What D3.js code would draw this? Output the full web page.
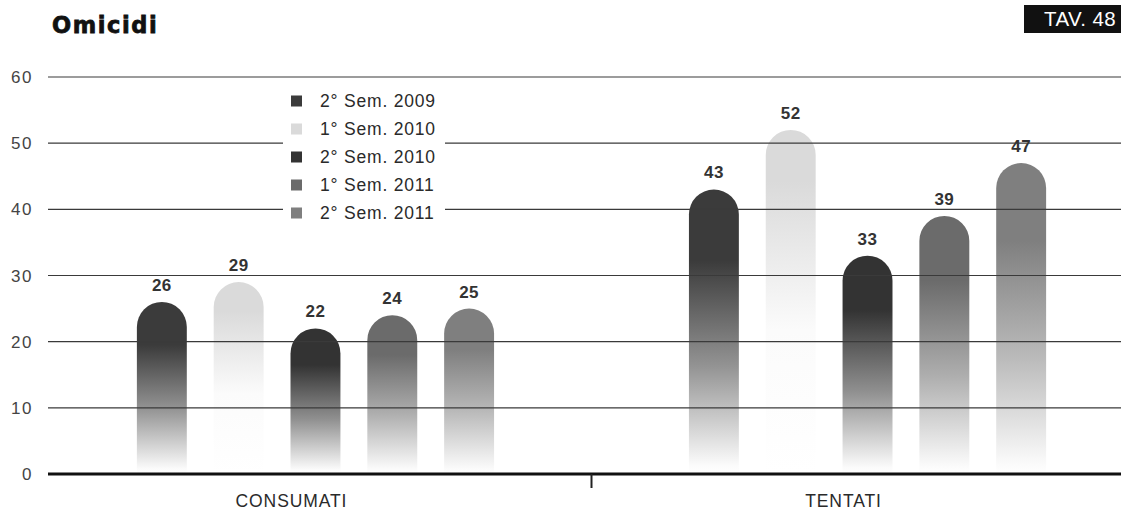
<!DOCTYPE html>
<html><head><meta charset="utf-8">
<script src="https://cdn.jsdelivr.net/npm/d3@7/dist/d3.min.js"></script>
<style>body{margin:0;background:#fff}svg{display:block}</style>
</head><body><svg id="c" width="1121" height="510"></svg>
<script>
const categories = ["CONSUMATI", "TENTATI"];
const series = ["2° Sem. 2009", "1° Sem. 2010", "2° Sem. 2010", "1° Sem. 2011", "2° Sem. 2011"];
const consumati = [26, 29, 22, 24, 25];
const tentati = [43, 52, 33, 39, 47];
const seriesColors = ["#3b3b3b", "#dadada", "#333333", "#6b6b6b", "#7f7f7f"];
const seriesFadeEnd = [1, 0.6, 1, 1, 1];
const yTicks = [0, 10, 20, 30, 40, 50, 60];
const values = [consumati, tentati];

const FONT = "'Liberation Sans', Arial, sans-serif";
const svg = d3.select("#c").style("font-family", FONT);
const W = 1121;
const y = d3.scaleLinear().domain([0, 60]).range([474, 77]);
const x0 = d3.scaleBand().domain(categories).range([48, 1135]).paddingInner(0.353).paddingOuter(0.161);
const x1 = d3.scaleBand().domain(series).range([0, x0.bandwidth()]).paddingInner(0.35).paddingOuter(0);

const defs = svg.append("defs");
series.forEach((s, i) => {
  const e = seriesFadeEnd[i];
  const g = defs.append("linearGradient").attr("id", "g" + i).attr("x1", 0).attr("y1", 0).attr("x2", 0).attr("y2", 1);
  g.append("stop").attr("offset", 0).attr("stop-color", seriesColors[i]);
  g.append("stop").attr("offset", 0.25 * e).attr("stop-color", seriesColors[i]);
  g.append("stop").attr("offset", 0.62 * e).attr("stop-color", d3.interpolateRgb(seriesColors[i], "#fff")(0.45));
  g.append("stop").attr("offset", 0.97 * e).attr("stop-color", "#fbfbfb");
  g.append("stop").attr("offset", 1).attr("stop-color", "#fff");
});

// bars
const bw = x1.bandwidth();
const r = bw / 2;
categories.forEach((c, ci) => {
  const grp = svg.append("g").attr("transform", `translate(${x0(c)},0)`);
  series.forEach((s, si) => {
    const v = values[ci][si];
    const xl = x1(s), top = y(v), bot = y(0);
    const path = `M${xl},${bot} L${xl},${top + r} A${r},${r} 0 0 1 ${xl + bw},${top + r} L${xl + bw},${bot} Z`;
    grp.append("path").attr("d", path).attr("fill", `url(#g${si})`);
    grp.append("text").attr("x", xl + bw / 2).attr("y", top - 11)
      .attr("text-anchor", "middle").attr("font-size", 17).attr("font-weight", "bold")
      .attr("fill", "#333").attr("letter-spacing", "0.5").text(v);
  });
});

// gridlines
svg.append("g").selectAll("line").data(yTicks.filter(t => t > 0)).join("line")
  .attr("x1", 48).attr("x2", W).attr("y1", d => y(d)).attr("y2", d => y(d))
  .attr("stroke", "#3a3a3a").attr("stroke-width", 1.2);

// baseline
svg.append("line").attr("x1", 48).attr("x2", W).attr("y1", y(0)).attr("y2", y(0))
  .attr("stroke", "#111").attr("stroke-width", 3.2);
// separator tick
const tickX = (x0("CONSUMATI") + x0.bandwidth() + x0("TENTATI")) / 2;
svg.append("line").attr("x1", tickX).attr("x2", tickX).attr("y1", y(0)).attr("y2", y(0) + 14)
  .attr("stroke", "#222").attr("stroke-width", 2);

// y labels
svg.append("g").selectAll("text").data(yTicks).join("text")
  .attr("x", 33).attr("y", d => y(d)).attr("dy", "0.36em").attr("text-anchor", "end")
  .attr("font-size", 17).attr("letter-spacing", "1.5").attr("fill", "#444").text(d => d);

// category labels
svg.append("g").selectAll("text").data(categories).join("text")
  .attr("x", d => x0(d) + x0.bandwidth() / 2 - 24).attr("y", 501).attr("dy", "0.36em")
  .attr("text-anchor", "middle").attr("font-size", 17.5).attr("letter-spacing", "0.9")
  .attr("fill", "#2a2a2a").text(d => d);

// legend
const lg = svg.append("g");
lg.append("rect").attr("x", 283).attr("y", 86).attr("width", 162).attr("height", 142).attr("fill", "#fff");
series.forEach((s, i) => {
  const cy = 101 + i * 28;
  lg.append("rect").attr("x", 291).attr("y", cy - 5.5).attr("width", 11).attr("height", 11).attr("fill", seriesColors[i]);
  lg.append("text").attr("x", 320).attr("y", cy).attr("dy", "0.36em").attr("font-size", 17.5)
    .attr("letter-spacing", "0.8").attr("fill", "#2a2a2a").text(s);
});

// title
svg.append("text").attr("x", 52).attr("y", 32.5).style("font-family", "'DejaVu Sans', sans-serif")
  .attr("font-size", 22.5).attr("font-weight", "bold").attr("fill", "#111").attr("letter-spacing", "1.6")
  .attr("stroke", "#111").attr("stroke-width", 0.8).text("Omicidi");

// TAV box
svg.append("rect").attr("x", 1024).attr("y", 5).attr("width", 97).attr("height", 28).attr("fill", "#111");
svg.append("text").attr("x", 1116).attr("y", 19).attr("dy", "0.36em").attr("text-anchor", "end")
  .attr("font-size", 20.5).attr("letter-spacing", "0.4").attr("fill", "#fff").text("TAV. 48");
</script></body></html>
